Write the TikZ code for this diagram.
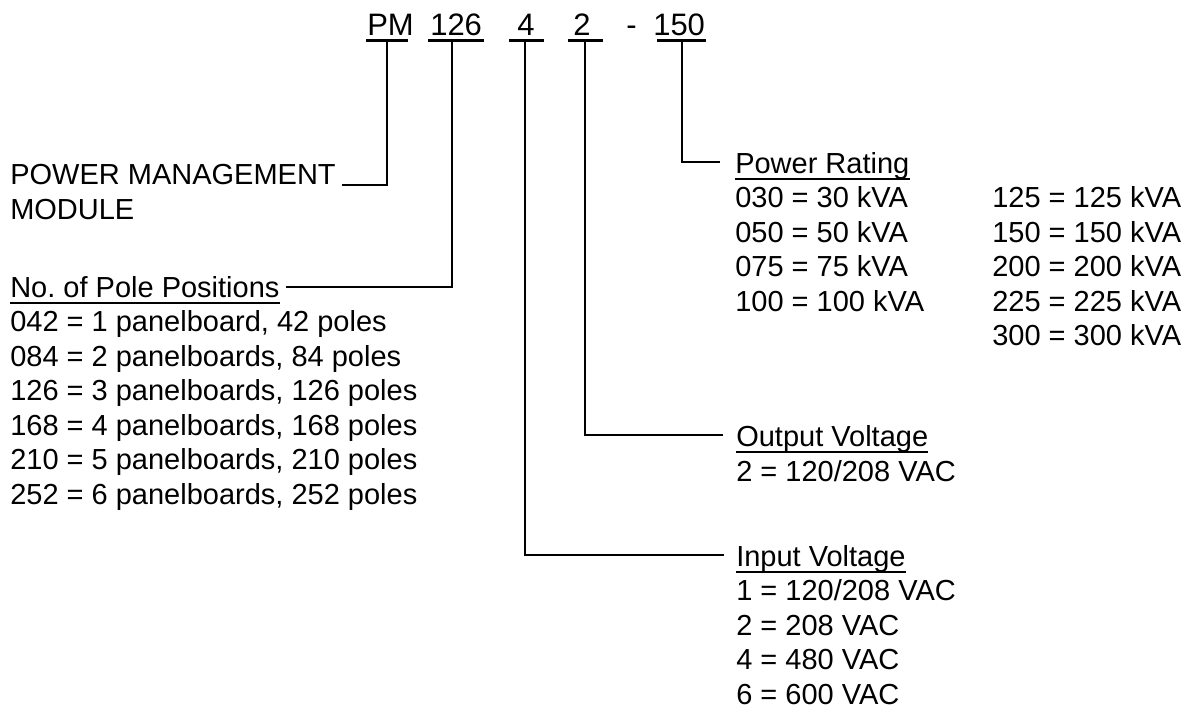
\documentclass[tikz,border=0pt]{standalone}
\usepackage{fontspec}
\setmainfont{Liberation Sans}
\frenchspacing
\newcommand{\bodyfont}{\fontsize{21.75}{26}\selectfont}
\newcommand{\codefont}{\fontsize{23.25}{28}\selectfont}
\tikzset{
  lbl/.style={anchor=base west, inner sep=0pt, font=\bodyfont},
  codetxt/.style={anchor=base west, inner sep=0pt, font=\codefont},
  conn/.style={line width=1.5pt, line cap=rect},
  cul/.style={line width=2.25pt},
  hul/.style={line width=1.1pt}
}
\begin{document}
\begin{tikzpicture}[x=0.75pt,y=-0.75pt]
\useasboundingbox (0,0) rectangle (1185,710);
% code line
\node[codetxt] (cPM) at (367,36) {PM};
\node[codetxt] (c126) at (430,36) {126};
\node[codetxt] (c4) at (517,36) {4};
\node[codetxt] (c2) at (573,36) {2};
\node[codetxt] (cdash) at (626,36) {-};
\node[codetxt] (c150) at (653,36) {150};
\coordinate (uPMa) at (366,41); \coordinate (uPMb) at (408,41);
\coordinate (u126a) at (428,41); \coordinate (u126b) at (484,41);
\coordinate (u4a) at (509,41); \coordinate (u4b) at (544,41);
\coordinate (u2a) at (568,41); \coordinate (u2b) at (603,41);
\coordinate (u150a) at (657,41); \coordinate (u150b) at (706,41);
\foreach \a/\b in {uPMa/uPMb,u126a/u126b,u4a/u4b,u2a/u2b,u150a/u150b}
  \draw[cul] (\a) -- (\b);
% connector tops
\coordinate (tPM) at (387,41);
\coordinate (t126) at (452,41);
\coordinate (t4) at (525,41);
\coordinate (t2) at (585,41);
\coordinate (t150) at (682,41);
% Power management module
\node[lbl] (pmm1) at (10,184) {POWER MANAGEMENT};
\node[lbl] (pmm2) at (10,219) {MODULE};
\coordinate (ePM) at (343,185);
\draw[conn] (tPM) |- (ePM);
% pole positions
\node[lbl] (polehd) at (10,297) {No.\ of Pole Positions};
\draw[hul] ([yshift=-4.5pt]polehd.base west) -- ([yshift=-4.5pt]polehd.base east);
\coordinate (e126) at (287,287);
\draw[conn] (t126) |- (e126);
\node[lbl] (p1) at (10,331.5) {042 = 1 panelboard, 42 poles};
\node[lbl] (p2) at (10,366) {084 = 2 panelboards, 84 poles};
\node[lbl] (p3) at (10,400.5) {126 = 3 panelboards, 126 poles};
\node[lbl] (p4) at (10,435) {168 = 4 panelboards, 168 poles};
\node[lbl] (p5) at (10,469.5) {210 = 5 panelboards, 210 poles};
\node[lbl] (p6) at (10,504) {252 = 6 panelboards, 252 poles};
% power rating
\node[lbl] (prhd) at (735,173) {Power Rating};
\draw[hul] ([yshift=-4.5pt]prhd.base west) -- ([yshift=-4.5pt]prhd.base east);
\coordinate (e150) at (719,162);
\draw[conn] (t150) |- (e150);
\node[lbl] (r1) at (735,207.5) {030 = 30 kVA};
\node[lbl] (r2) at (735,242) {050 = 50 kVA};
\node[lbl] (r3) at (735,276.5) {075 = 75 kVA};
\node[lbl] (r4) at (735,311) {100 = 100 kVA};
\node[lbl] (r5) at (992,207.5) {125 = 125 kVA};
\node[lbl] (r6) at (992,242) {150 = 150 kVA};
\node[lbl] (r7) at (992,276.5) {200 = 200 kVA};
\node[lbl] (r8) at (992,311) {225 = 225 kVA};
\node[lbl] (r9) at (992,345.5) {300 = 300 kVA};
% output voltage
\node[lbl] (ovhd) at (736,446) {Output Voltage};
\draw[hul] ([yshift=-4.5pt]ovhd.base west) -- ([yshift=-4.5pt]ovhd.base east);
\coordinate (e2) at (722,435);
\draw[conn] (t2) |- (e2);
\node[lbl] (o1) at (736,481) {2 = 120/208 VAC};
% input voltage
\node[lbl] (ivhd) at (736,566) {Input Voltage};
\draw[hul] ([yshift=-4.5pt]ivhd.base west) -- ([yshift=-4.5pt]ivhd.base east);
\coordinate (e4) at (723,555);
\draw[conn] (t4) |- (e4);
\node[lbl] (i1) at (736,600.5) {1 = 120/208 VAC};
\node[lbl] (i2) at (736,635) {2 = 208 VAC};
\node[lbl] (i3) at (736,669.5) {4 = 480 VAC};
\node[lbl] (i4) at (736,704) {6 = 600 VAC};
\end{tikzpicture}
\end{document}
